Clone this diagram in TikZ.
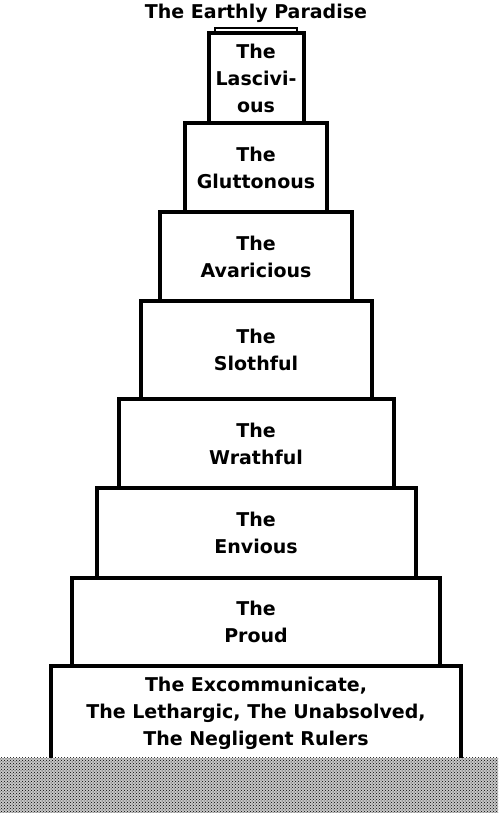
\documentclass[tikz,border=0pt]{standalone}
\usepackage{fontspec}
\setmainfont{DejaVu Sans}
\usetikzlibrary{positioning, patterns}

\begin{document}
\begin{tikzpicture}[font=\bfseries\fontsize{19}{27}\selectfont]

% --- Styles ---
\tikzset{
    tier/.style={rectangle, draw, line width=4pt, outer sep=0pt, inner sep=0pt, align=center},
    ground/.style={rectangle, fill=black!22, outer sep=0pt, inner sep=0pt, postaction={pattern=crosshatch dots}},
}

\useasboundingbox (0,0) rectangle (498pt,813pt);

% --- Ante-Purgatory (bottom) ---
\node[tier, minimum width=410pt, minimum height=94pt] (rulers) at (256pt,100pt) {The Excommunicate,\\The Lethargic, The Unabsolved,\\The Negligent Rulers};

% --- The seven terraces ---
\node[tier, minimum width=368pt, minimum height=88pt, above=0pt of rulers] (proud) {The\\Proud};
\node[tier, minimum width=319pt, minimum height=90pt, above=0pt of proud] (envious) {The\\Envious};
\node[tier, minimum width=275pt, minimum height=89pt, above=0pt of envious] (wrathful) {The\\Wrathful};
\node[tier, minimum width=231pt, minimum height=98pt, above=0pt of wrathful] (slothful) {The\\Slothful};
\node[tier, minimum width=192pt, minimum height=89pt, above=0pt of slothful] (avaricious) {The\\Avaricious};
\node[tier, minimum width=142pt, minimum height=89pt, above=0pt of avaricious] (gluttonous) {The\\Gluttonous};
\node[tier, minimum width=95pt, minimum height=90pt, above=0pt of gluttonous] (lascivious) {The\\Lascivi-\\ous};

% --- Summit ---
\node[rectangle, draw, line width=2.5pt, outer sep=0pt, inner sep=0pt, minimum width=82pt, minimum height=5pt, above=0pt of lascivious] (lid) {};
\node[above=2pt of lid] (paradise) {The Earthly Paradise};

% --- Ground ---
\node[ground, minimum width=498pt, minimum height=55pt, anchor=south] (earth) at (249pt,0pt) {};

\end{tikzpicture}
\end{document}
